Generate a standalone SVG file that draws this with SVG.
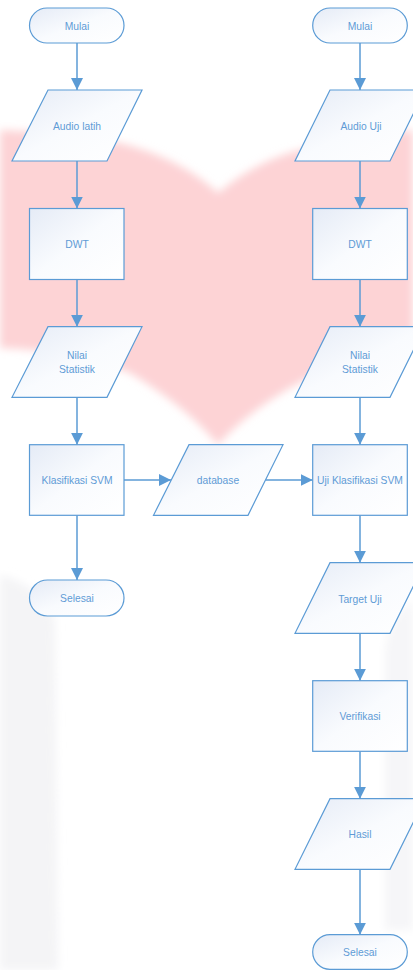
<svg xmlns="http://www.w3.org/2000/svg" width="413" height="970" viewBox="0 0 413 970">
<defs>
<linearGradient id="nf" x1="0" y1="0" x2="1" y2="1">
<stop offset="0" stop-color="#e5ebf6"/>
<stop offset="0.5" stop-color="#f9fbfe"/>
<stop offset="1" stop-color="#ffffff"/>
</linearGradient>
<filter id="blur" x="-10%" y="-10%" width="120%" height="120%"><feGaussianBlur stdDeviation="4"/></filter>
<marker id="ah" markerUnits="userSpaceOnUse" markerWidth="12" markerHeight="12" viewBox="0 0 10 10" refX="10" refY="5" orient="auto">
<path d="M0,0 L10,5 L0,10 Z" fill="#5b9bd5"/>
</marker>
</defs>
<style>
.n{fill:url(#nf);stroke:#5b9bd5;stroke-width:1.2}
.t{font-family:"Liberation Sans",Arial,sans-serif;font-size:10.3px;fill:#5f9bd6;text-anchor:middle;dominant-baseline:central}
.c{fill:none;stroke:#5b9bd5;stroke-width:1.5;marker-end:url(#ah)}
</style>
<rect width="413" height="970" fill="#ffffff"/>
<g id="watermark" filter="url(#blur)">
<path d="M0,130 Q60,132 120,143 Q180,158 218,193 Q258,160 300,150 Q360,134 413,130 L413,347 Q352,358 310,377 Q250,408 218,445 Q188,408 130,373 Q70,350 0,348 Z" fill="#fdd3d5"/>
<path d="M0,575 Q40,585 55,620 L58,970 L0,970 Z" fill="#f4f4f6"/>
<path d="M413,600 Q390,615 385,650 L385,930 L413,930 Z" fill="#f6f6f8"/>
</g>
<g id="connectors">
<line class="c" x1="77" y1="43" x2="77" y2="90"/>
<line class="c" x1="77" y1="161" x2="77" y2="208.5"/>
<line class="c" x1="77" y1="279.5" x2="77" y2="326.7"/>
<line class="c" x1="77" y1="397.3" x2="77" y2="444.7"/>
<line class="c" x1="77" y1="515.3" x2="77" y2="580"/>
<line class="c" x1="124" y1="480" x2="171" y2="480"/>
<line class="c" x1="265.5" y1="480" x2="312.7" y2="480"/>
<line class="c" x1="360" y1="43" x2="360" y2="90"/>
<line class="c" x1="360" y1="161" x2="360" y2="208.5"/>
<line class="c" x1="360" y1="279.5" x2="360" y2="326.7"/>
<line class="c" x1="360" y1="397.3" x2="360" y2="444.7"/>
<line class="c" x1="360" y1="515.3" x2="360" y2="562.7"/>
<line class="c" x1="360" y1="633.3" x2="360" y2="680.7"/>
<line class="c" x1="360" y1="751.3" x2="360" y2="798.7"/>
<line class="c" x1="360" y1="869.3" x2="360" y2="934.7"/>
</g>
<g id="mulai1"><rect class="n" x="29.5" y="8" width="94.5" height="35" rx="17.5"/><text class="t" x="77" y="26">Mulai</text></g>
<g id="audio-latih"><polygon class="n" points="48,90 142,90 107,161 12,161"/><text class="t" x="77" y="126">Audio latih</text></g>
<g id="dwt1"><rect class="n" x="29.5" y="208.5" width="94.5" height="71"/><text class="t" x="77" y="244">DWT</text></g>
<g id="nilai1"><polygon class="n" points="48,326.7 142,326.7 107,397.3 12,397.3"/><text class="t" x="77" y="355">Nilai</text><text class="t" x="77" y="369">Statistik</text></g>
<g id="klasifikasi"><rect class="n" x="29.5" y="444.7" width="94.5" height="70.6"/><text class="t" x="77" y="480">Klasifikasi SVM</text></g>
<g id="selesai1"><rect class="n" x="29.5" y="580" width="94.5" height="36" rx="18"/><text class="t" x="77" y="598">Selesai</text></g>
<g id="database"><polygon class="n" points="189,444.7 283,444.7 248,515.3 153.5,515.3"/><text class="t" x="218" y="480">database</text></g>
<g id="mulai2"><rect class="n" x="312.7" y="8" width="94.6" height="35" rx="17.5"/><text class="t" x="360" y="26">Mulai</text></g>
<g id="audio-uji"><polygon class="n" points="330,90 425,90 390,161 295,161"/><text class="t" x="361" y="126">Audio Uji</text></g>
<g id="dwt2"><rect class="n" x="312.7" y="208.5" width="94.6" height="71"/><text class="t" x="360" y="244">DWT</text></g>
<g id="nilai2"><polygon class="n" points="330,326.7 425,326.7 390,397.3 295,397.3"/><text class="t" x="360" y="355">Nilai</text><text class="t" x="360" y="369">Statistik</text></g>
<g id="uji-klasifikasi"><rect class="n" x="312.7" y="444.7" width="94.6" height="70.6"/><text class="t" x="360" y="480">Uji Klasifikasi SVM</text></g>
<g id="target-uji"><polygon class="n" points="330,562.7 425,562.7 390,633.3 295,633.3"/><text class="t" x="360" y="599">Target Uji</text></g>
<g id="verifikasi"><rect class="n" x="312.7" y="680.7" width="94.6" height="70.6"/><text class="t" x="360" y="716">Verifikasi</text></g>
<g id="hasil"><polygon class="n" points="330,798.7 425,798.7 390,869.3 295,869.3"/><text class="t" x="360" y="834">Hasil</text></g>
<g id="selesai2"><rect class="n" x="312.7" y="934.7" width="94.6" height="34.6" rx="17.3"/><text class="t" x="360" y="952">Selesai</text></g>
</svg>
